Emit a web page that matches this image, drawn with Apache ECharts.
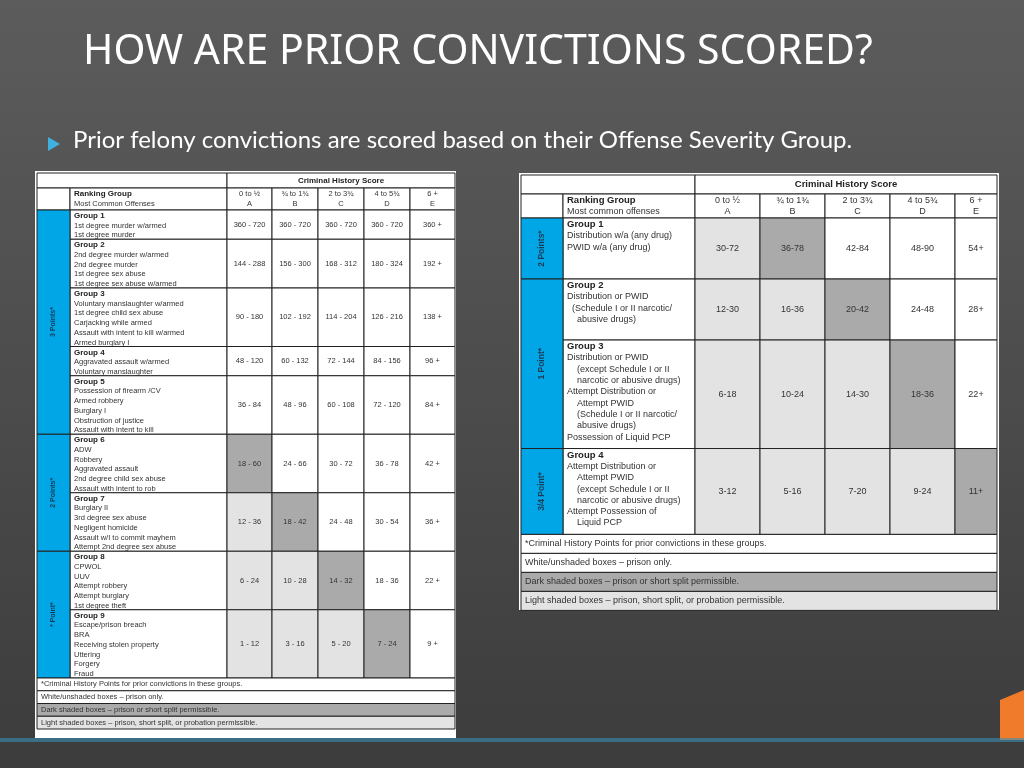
<!DOCTYPE html>
<html><head><meta charset="utf-8">
<script src="https://cdn.jsdelivr.net/npm/echarts@6/dist/echarts.min.js"></script>
<style>html,body{margin:0;padding:0;background:#4a4a4a}#c{width:1024px;height:768px}</style>
</head><body><div id="c"></div>
<script>
// ---------- DATA ----------
const scoreHeaders = ["0 to ½\nA", "¾ to 1¾\nB", "2 to 3¾\nC", "4 to 5¾\nD", "6 +\nE"];
const footerNotes = ["*Criminal History Points for prior convictions in these groups.",
  "White/unshaded boxes – prison only.",
  "Dark shaded boxes – prison or short split permissible.",
  "Light shaded boxes – prison, short split, or probation permissible."];
const footerShade = ["w", "w", "d", "l"];

const leftGroupNames = ["Group 1","Group 2","Group 3","Group 4","Group 5","Group 6","Group 7","Group 8","Group 9"];
const leftOffenses = [
  ["1st degree murder w/armed","1st degree murder"],
  ["2nd degree murder w/armed","2nd degree murder","1st degree sex abuse","1st degree sex abuse w/armed"],
  ["Voluntary manslaughter w/armed","1st degree child sex abuse","Carjacking while armed","Assault with intent to kill w/armed","Armed burglary I"],
  ["Aggravated assault w/armed","Voluntary manslaughter"],
  ["Possession of firearm /CV","Armed robbery","Burglary I","Obstruction of justice","Assault with intent to kill"],
  ["ADW","Robbery","Aggravated assault","2nd degree child sex abuse","Assault with intent to rob"],
  ["Burglary II","3rd degree sex abuse","Negligent homicide","Assault w/I to commit mayhem","Attempt 2nd degree sex abuse"],
  ["CPWOL","UUV","Attempt robbery","Attempt burglary","1st degree theft"],
  ["Escape/prison breach","BRA","Receiving stolen property","Uttering","Forgery","Fraud"]
];
const leftRanges = [
  ["360 - 720","360 - 720","360 - 720","360 - 720","360 +"],
  ["144 - 288","156 - 300","168 - 312","180 - 324","192 +"],
  ["90 - 180","102 - 192","114 - 204","126 - 216","138 +"],
  ["48 - 120","60 - 132","72 - 144","84 - 156","96 +"],
  ["36 - 84","48 - 96","60 - 108","72 - 120","84 +"],
  ["18 - 60","24 - 66","30 - 72","36 - 78","42 +"],
  ["12 - 36","18 - 42","24 - 48","30 - 54","36 +"],
  ["6 - 24","10 - 28","14 - 32","18 - 36","22 +"],
  ["1 - 12","3 - 16","5 - 20","7 - 24","9 +"]
];
const leftShades = [
  ["w","w","w","w","w"],["w","w","w","w","w"],["w","w","w","w","w"],["w","w","w","w","w"],["w","w","w","w","w"],
  ["d","w","w","w","w"],["l","d","w","w","w"],["l","l","d","w","w"],["l","l","l","d","w"]
];
const leftBands = [{label:"3 Points*", from:0, to:4},{label:"2 Points*", from:5, to:6},{label:"* Point*", from:7, to:8}];

const rightGroupNames = ["Group 1","Group 2","Group 3","Group 4"];
const rightOffenses = [
  ["Distribution w/a (any drug)","PWID w/a (any drug)"],
  ["Distribution or PWID","  (Schedule I or II narcotic/","    abusive drugs)"],
  ["Distribution or PWID","    (except Schedule I or II","    narcotic or abusive drugs)","Attempt Distribution or","    Attempt PWID","    (Schedule I or II narcotic/","    abusive drugs)","Possession of Liquid PCP"],
  ["Attempt Distribution or","    Attempt PWID","    (except Schedule I or II","    narcotic or abusive drugs)","Attempt Possession of","    Liquid PCP"]
];
const rightRanges = [
  ["30-72","36-78","42-84","48-90","54+"],
  ["12-30","16-36","20-42","24-48","28+"],
  ["6-18","10-24","14-30","18-36","22+"],
  ["3-12","5-16","7-20","9-24","11+"]
];
const rightShades = [["l","d","w","w","w"],["l","l","d","w","w"],["l","l","l","d","w"],["l","l","l","l","d"]];
const rightBands = [{label:"2 Points*", from:0, to:0},{label:"1 Point*", from:1, to:2},{label:"3/4 Point*", from:3, to:3}];

// ---------- LAYOUT / STYLE ----------
const FILL = {w:"#ffffff", l:"#e3e3e3", d:"#aaaaaa"};
const BAND = "#00a6e6";
const FONT = "Liberation Sans";

function buildTable(cfg) {
  const colEdges = [0]; cfg.colW.forEach(w => colEdges.push(colEdges[colEdges.length-1] + w));
  const cells = [];
  let y = 0;
  cells.push({x0:0, x1:colEdges[2], y0:y, y1:y+cfg.titleH, fill:"w", text:"", kind:"c"});
  cells.push({x0:colEdges[2], x1:colEdges[7], y0:y, y1:y+cfg.titleH, fill:"w", text:"{b|Criminal History Score}", kind:"c"});
  y += cfg.titleH;
  cells.push({x0:0, x1:colEdges[1], y0:y, y1:y+cfg.headH, fill:"w", text:"", kind:"c"});
  cells.push({x0:colEdges[1], x1:colEdges[2], y0:y, y1:y+cfg.headH, fill:"w", text:"{b|Ranking Group}\n" + cfg.headSub, kind:"l"});
  scoreHeaders.forEach((h, i) => cells.push({x0:colEdges[2+i], x1:colEdges[3+i], y0:y, y1:y+cfg.headH, fill:"w", text:h, kind:"c"}));
  y += cfg.headH;
  const rowY = [];
  cfg.names.forEach((n, r) => {
    const lines = cfg.offenses[r].length + 1;
    const h = Math.max(lines + cfg.pad, cfg.minLines) * cfg.lineH;
    rowY.push([y, y + h]);
    cells.push({x0:colEdges[1], x1:colEdges[2], y0:y, y1:y+h, fill:"w",
      text:"{b|" + n + "}\n" + cfg.offenses[r].join("\n"), kind:"l"});
    cfg.ranges[r].forEach((v, i) => cells.push({x0:colEdges[2+i], x1:colEdges[3+i], y0:y, y1:y+h, fill:cfg.shades[r][i], text:v, kind:"c"}));
    y += h;
  });
  cfg.bands.forEach(b => cells.push({x0:0, x1:colEdges[1], y0:rowY[b.from][0], y1:rowY[b.to][1], fill:"band", text:b.label, kind:"v"}));
  footerNotes.forEach((f, i) => {
    cells.push({x0:0, x1:colEdges[7], y0:y, y1:y+cfg.footH, fill:footerShade[i], text:f, kind:"l"});
    y += cfg.footH;
  });
  return {cells, width: colEdges[7], height: y, lineH: cfg.lineH};
}

const leftT = buildTable({colW:[33,157,45,46,46,46,45], titleH:15, headH:22, lineH:9.75, minLines:3, pad:0, footH:12.75,
  headSub:"Most Common Offenses", names:leftGroupNames, offenses:leftOffenses, ranges:leftRanges, shades:leftShades, bands:leftBands});
const rightT = buildTable({colW:[42,132,65,65,65,65,42], titleH:19, headH:24, lineH:11.3, minLines:5.4, pad:0.6, footH:19,
  headSub:"Most common offenses", names:rightGroupNames, offenses:rightOffenses, ranges:rightRanges, shades:rightShades, bands:rightBands});
const chart = echarts.init(document.getElementById('c'));

function series(idx, T, fs) {
  return {
    type:'custom', xAxisIndex:idx, yAxisIndex:idx, silent:true,
    data: T.cells.map(c => [c.x0, c.x1, c.y0, c.y1]),
    renderItem: function(params, api) {
      const c = T.cells[params.dataIndex];
      const p0 = api.coord([c.x0, c.y0]), p1 = api.coord([c.x1, c.y1]);
      const x = p0[0], y = p0[1], w = p1[0]-p0[0], h = p1[1]-p0[1];
      const children = [{type:'rect', shape:{x, y, width:w, height:h},
        style:{fill: c.fill === "band" ? BAND : FILL[c.fill], stroke:"#222", lineWidth:1}}];
      const lh = T.lineH;
      const rich = {b:{fontWeight:'bold', fontSize:fs+0.5, fontFamily:FONT, fill:'#222', lineHeight:lh}};
      if (c.kind === "c") {
        children.push({type:'text', x:x+w/2, y:y+h/2, style:{text:c.text, align:'center', verticalAlign:'middle',
          fontSize:fs, fontFamily:FONT, fill:'#333', lineHeight:lh, rich}});
      } else if (c.kind === "l") {
        const isGroup = c.text.indexOf("{b|Group") === 0;
        children.push({type:'text', x:x+4, y: isGroup ? y+1 : y+h/2,
          style:{text:c.text, align:'left', verticalAlign: isGroup ? 'top' : 'middle',
          fontSize:fs, fontFamily:FONT, fill:'#333', lineHeight:lh, rich}});
      } else {
        children.push({type:'text', x:x+w/2, y:y+h/2, rotation:Math.PI/2,
          style:{text:c.text, align:'center', verticalAlign:'middle', fontSize:fs-0.5, fontWeight:'bold', fontFamily:FONT, fill:'#1a3a55'}});
      }
      return {type:'group', children};
    }
  };
}

function axes(T) {
  return [{type:'value', min:0, max:T.width, show:false}, {type:'value', min:0, max:T.height, inverse:true, show:false}];
}
const ax0 = axes(leftT), ax1 = axes(rightT);

chart.setOption({
  backgroundColor: new echarts.graphic.LinearGradient(0,0,0,1,[{offset:0,color:'#5c5c5c'},{offset:1,color:'#3c3c3c'}]),
  animation:false,
  title:{text:"HOW ARE PRIOR CONVICTIONS SCORED?", left:78, top:27,
    textStyle:{color:'#fff', fontSize:41, fontWeight:'normal', fontFamily:'Noto Sans'}},
  graphic:[
    {type:'polygon', shape:{points:[[48,137],[48,151],[60,144]]}, style:{fill:'#3fb0e0'}},
    {type:'text', left:73, top:128, style:{text:"Prior felony convictions are scored based on their Offense Severity Group.",
      fill:'#fff', fontSize:24, fontFamily:'Lato'}},
    {type:'rect', shape:{x:35, y:171, width:421, height:567}, style:{fill:'#fff'}},
    {type:'rect', shape:{x:519, y:173, width:480, height:437}, style:{fill:'#fff'}},
    {type:'polygon', shape:{points:[[1000,700],[1024,690],[1024,740],[1000,740]]}, style:{fill:'#f07b2a'}},
    {type:'rect', shape:{x:0, y:738, width:1024, height:4}, style:{fill:'#3a8fb5', opacity:0.6}}
  ],
  grid:[
    {left:37, top:173, width:leftT.width, height:leftT.height},
    {left:521, top:175, width:rightT.width, height:rightT.height}
  ],
  xAxis:[ax0[0], {...ax1[0], gridIndex:1}],
  yAxis:[ax0[1], {...ax1[1], gridIndex:1}],
  series:[series(0, leftT, 7.5), series(1, rightT, 9)]
});
</script></body></html>
